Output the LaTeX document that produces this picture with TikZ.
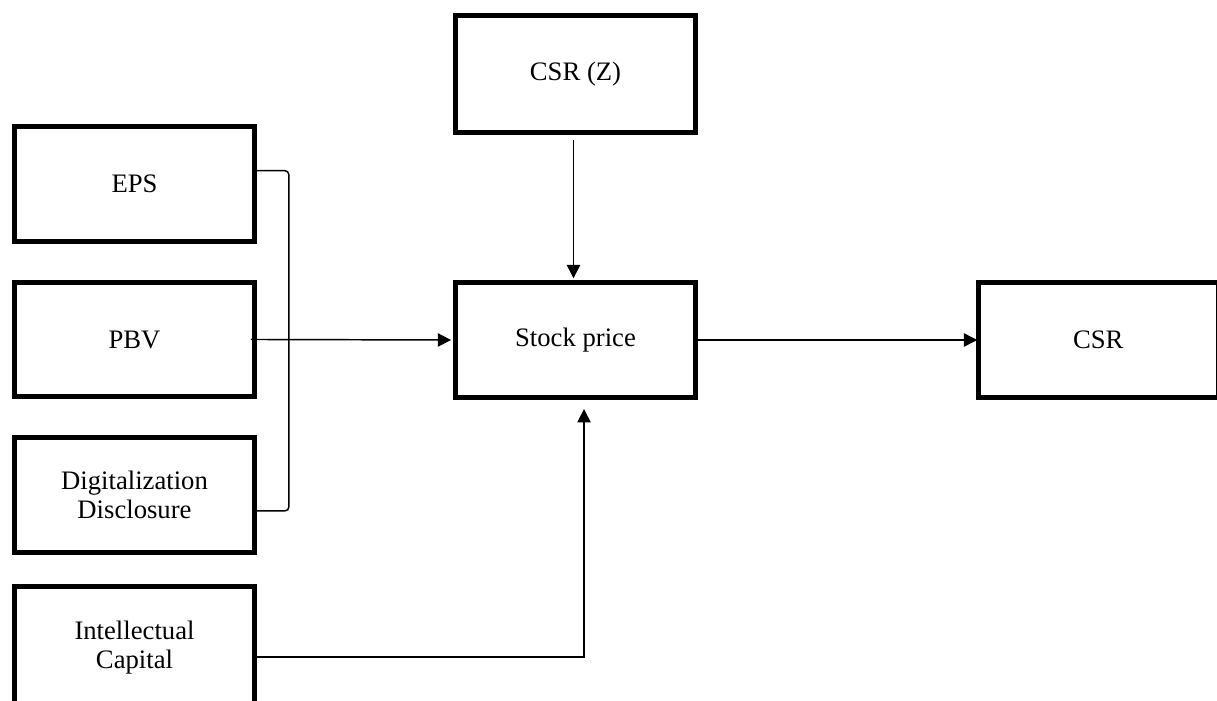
\documentclass[tikz,border=0pt]{standalone}
\usepackage{fontspec}
\setmainfont{Liberation Serif}
\usetikzlibrary{arrows.meta,positioning}

\begin{document}
\begin{tikzpicture}[
  x=0.75pt,y=-0.75pt,
  caixa/.style={draw,line width=3.6pt,align=center,minimum width=180pt,minimum height=86pt,inner sep=2pt,
    font=\fontsize{20}{22}\selectfont},
  linha/.style={line width=1.1pt},
  seta/.style={linha,-{Triangle[length=10pt,width=10pt]}},
  node distance=27pt
]
\useasboundingbox (0,0) rectangle (1217,700);
\node[caixa] (eps) at (134.5,184) {EPS};
\node[caixa,below=of eps] (pbv) {PBV};
\node[caixa,below=of pbv] (dig) {Digitalization\\Disclosure};
\node[caixa,minimum height=92pt,below=22pt of dig] (ic) {Intellectual\\Capital};
\node[caixa] (preco) at (575.5,340) {Stock price};
\node[caixa,minimum height=88pt,above=109pt of preco] (csrz) {CSR (Z)};
\node[caixa,right=208.5pt of preco] (csr) {CSR};
% chave ligando as tres variaveis
\draw[linha,rounded corners=3pt] ([yshift=10pt]eps.east) -- ++(32,0) |- ([yshift=-12pt]dig.east);
\draw[seta] ([xshift=-4.5pt]pbv.east) -- ([xshift=-1.5pt]preco.west);
\draw[seta] ([xshift=-1.5pt,yshift=-4pt]csrz.south) -- ([xshift=-1.5pt,yshift=1.5pt]preco.north);
\draw[seta] (preco.east) -- ([xshift=1pt]csr.west);
\draw[seta] ([yshift=-7pt]ic.east) -| ([xshift=6.4pt,yshift=-7pt]preco.south);
\end{tikzpicture}
\end{document}
